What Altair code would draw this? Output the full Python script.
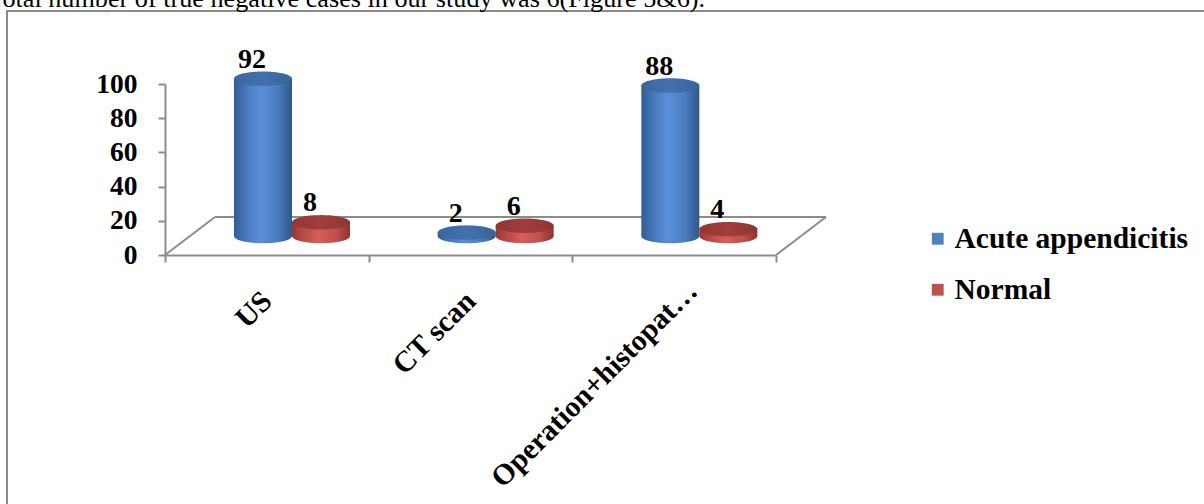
import altair as alt
import numpy as np
import pandas as pd

# ---- data -------------------------------------------------------------
CATEGORIES = ["US", "CT scan", "Operation+histopathology"]
SERIES = ["Acute appendicitis", "Normal"]
ACUTE = [92, 2, 88]
NORMAL = [8, 6, 4]
Y_TICKS = [0, 20, 40, 60, 80, 100]
LEGEND_COLORS = ["#4f81bd", "#c0504d"]
CAPTION = "Total number of true negative cases in our study was 6(Figure 5&6)."

rows = []
for cat, a, n in zip(CATEGORIES, ACUTE, NORMAL):
    rows.append({"cat": cat, "series": SERIES[0], "value": a, "zero": 0})
    rows.append({"cat": cat, "series": SERIES[1], "value": n, "zero": 0})
df = pd.DataFrame(rows)
one = pd.DataFrame({"k": [0]})
legend_df = pd.DataFrame({"series": SERIES})

# ---- layout / style ---------------------------------------------------
W, H = 1204, 504
X_RANGE = [165, 776]          # front edge of the floor
Y_RANGE = [255, 84]           # value axis 0 -> 100
DEPTH_X, DEPTH_Y = 50, -38    # projected depth of the floor
HALF_Y = DEPTH_Y / 2          # cylinders stand half way into the floor
GRAY = "#8c8c8c"
SERIF = "Liberation Serif"

band = (X_RANGE[1] - X_RANGE[0]) / len(CATEGORIES)
step = 58.0
pad_outer = (band / step - 2) / 2
first_start = 98 - step / 2   # blue cylinder centre, depth shift included
align = first_start / (band - 2 * step)
CYL_SIZE = step * step

# ellipse outline in unit coordinates for the cylinder caps
t = np.linspace(0, 2 * np.pi, 49)[:-1]
ELLIPSE = "M" + " L".join(f"{np.cos(a):.4f},{0.25 * np.sin(a):.4f}" for a in t) + " Z"


def hgrad(stops):
    return alt.LinearGradient(
        gradient="linear", x1=0, x2=1, y1=0, y2=0,
        stops=[alt.GradientStop(color=c, offset=o) for o, c in stops],
    )


BLUE_BODY = hgrad([(0, "#325d95"), (0.18, "#4474b6"), (0.45, "#5b90d7"),
                   (0.75, "#4a7dc1"), (1, "#2f5789")])
BLUE_CAP = hgrad([(0, "#3a669f"), (0.5, "#4371ad"), (1, "#39649b")])
RED_BODY = hgrad([(0, "#973836"), (0.2, "#b84a47"), (0.45, "#d45f5b"),
                  (0.75, "#c2504d"), (1, "#8e3331")])
RED_CAP = hgrad([(0, "#913634"), (0.5, "#a03e3b"), (1, "#8f3533")])

xs = alt.Scale(domain=CATEGORIES, range=X_RANGE, paddingInner=0, paddingOuter=0)
ys = alt.Scale(domain=[0, 100], range=Y_RANGE, nice=False, zero=True)
xo = alt.Scale(domain=SERIES, paddingInner=0, paddingOuter=pad_outer, align=align)

# the truncated last label sits a little further along than the others
last_label = f"datum.value == '{CATEGORIES[-1]}'"
x_axis = alt.Axis(
    orient="bottom", offset=-(H - Y_RANGE[0]), tickBand="extent",
    tickSize=7, tickWidth=2, tickColor=GRAY, domainColor=GRAY, domainWidth=2,
    labelAngle=315, labelAlign="right", labelBaseline="middle",
    labelPadding={"condition": {"test": last_label, "value": 24}, "value": 34},
    labelOffset={"condition": {"test": last_label, "value": 18}, "value": 0},
    labelFont=SERIF, labelFontSize=29.5, labelFontWeight="bold", labelColor="black",
    labelLimit=284, labelOverlap=False, labelFlush=False, grid=False, title=None,
)
y_axis = alt.Axis(
    orient="left", offset=-X_RANGE[0], values=Y_TICKS,
    tickSize=7, tickWidth=2, tickColor=GRAY, domainColor=GRAY, domainWidth=2,
    labelPadding=21, labelFont=SERIF, labelFontSize=27.5, labelFontWeight="bold",
    labelColor="black", labelOverlap=False, labelFlush=False, grid=False, title=None,
)

X = alt.X("cat:N", scale=xs, axis=x_axis)
XO = alt.XOffset("series:N", scale=xo)

# ---- frame and running text -------------------------------------------
frame = alt.Chart(one).mark_rect(fill="transparent", stroke=GRAY, strokeWidth=2).encode(
    x=alt.value(7), y=alt.value(11), x2=alt.value(W + 20), y2=alt.value(H + 20)
)
caption = alt.Chart(one).mark_text(
    text=CAPTION, align="right", baseline="alphabetic", font=SERIF, fontSize=26.2, color="black"
).encode(x=alt.value(705), y=alt.value(7))

# ---- floor -------------------------------------------------------------
floor_style = dict(stroke=GRAY, strokeWidth=2)
left_edge = alt.Chart(one).mark_rule(x2Offset=DEPTH_X, y2Offset=DEPTH_Y, **floor_style).encode(
    x=alt.XDatum(CATEGORIES[0], type="nominal", bandPosition=0, scale=xs, axis=x_axis),
    x2=alt.X2Datum(CATEGORIES[0], bandPosition=0),
    y=alt.YDatum(0, type="quantitative", scale=ys, axis=y_axis),
    y2=alt.Y2Datum(0),
)
right_edge = alt.Chart(one).mark_rule(x2Offset=DEPTH_X, y2Offset=DEPTH_Y, **floor_style).encode(
    x=alt.XDatum(CATEGORIES[-1], type="nominal", bandPosition=1, scale=xs, axis=x_axis),
    x2=alt.X2Datum(CATEGORIES[-1], bandPosition=1),
    y=alt.YDatum(0, type="quantitative", scale=ys, axis=y_axis),
    y2=alt.Y2Datum(0),
)
back_edge = alt.Chart(one).mark_rule(
    xOffset=DEPTH_X, x2Offset=DEPTH_X, yOffset=DEPTH_Y, y2Offset=DEPTH_Y, **floor_style
).encode(
    x=alt.XDatum(CATEGORIES[0], type="nominal", bandPosition=0, scale=xs, axis=x_axis),
    x2=alt.X2Datum(CATEGORIES[-1], bandPosition=1),
    y=alt.YDatum(0, type="quantitative", scale=ys, axis=y_axis),
    y2=alt.Y2Datum(0),
)


# ---- cylinders ---------------------------------------------------------
def cylinder(series, body, cap):
    base = alt.Chart(df).transform_filter(alt.datum.series == series)
    bottom = base.mark_point(
        shape=ELLIPSE, size=CYL_SIZE, filled=True, fill=body, strokeWidth=0,
        opacity=1, yOffset=HALF_Y,
    ).encode(x=X, xOffset=XO, y=alt.Y("zero:Q", scale=ys, axis=y_axis))
    body_bar = base.mark_bar(
        fill=body, strokeWidth=0, yOffset=HALF_Y, y2Offset=HALF_Y
    ).encode(
        x=X, xOffset=XO,
        y=alt.Y("value:Q", scale=ys, axis=y_axis), y2=alt.Y2("zero:Q"),
    )
    top = base.mark_point(
        shape=ELLIPSE, size=CYL_SIZE, filled=True, fill=cap, strokeWidth=0,
        opacity=1, yOffset=HALF_Y,
    ).encode(x=X, xOffset=XO, y=alt.Y("value:Q", scale=ys, axis=y_axis))
    return [bottom, body_bar, top]


labels = alt.Chart(df).mark_text(
    baseline="alphabetic", align="center", dx=-11, dy=HALF_Y - 11,
    font=SERIF, fontSize=28, fontWeight="bold", color="black",
).encode(x=X, xOffset=XO, y=alt.Y("value:Q", scale=ys, axis=y_axis), text="value:Q")

legend_layer = alt.Chart(legend_df).mark_square(size=140, opacity=1).encode(
    x=alt.value(-60), y=alt.value(-60),
    color=alt.Color(
        "series:N",
        scale=alt.Scale(domain=SERIES, range=LEGEND_COLORS),
        legend=alt.Legend(
            title=None, orient="none", legendX=923, legendY=224, padding=0,
            symbolType="square", symbolSize=140, symbolStrokeWidth=0, symbolOpacity=1,
            labelFont=SERIF, labelFontSize=29.5, labelFontWeight="bold", labelColor="black",
            labelOffset=2, rowPadding=20, labelLimit=400,
        ),
    ),
)

chart = alt.layer(
    frame, caption, left_edge, back_edge, right_edge,
    *cylinder(SERIES[0], BLUE_BODY, BLUE_CAP),
    *cylinder(SERIES[1], RED_BODY, RED_CAP),
    labels, legend_layer,
).properties(
    width=W, height=H, padding=0, autosize=alt.AutoSizeParams(type="none"),
    background="white",
).configure_view(stroke=None)

chart.save("out.html", embed_options={"renderer": "svg", "actions": False})
